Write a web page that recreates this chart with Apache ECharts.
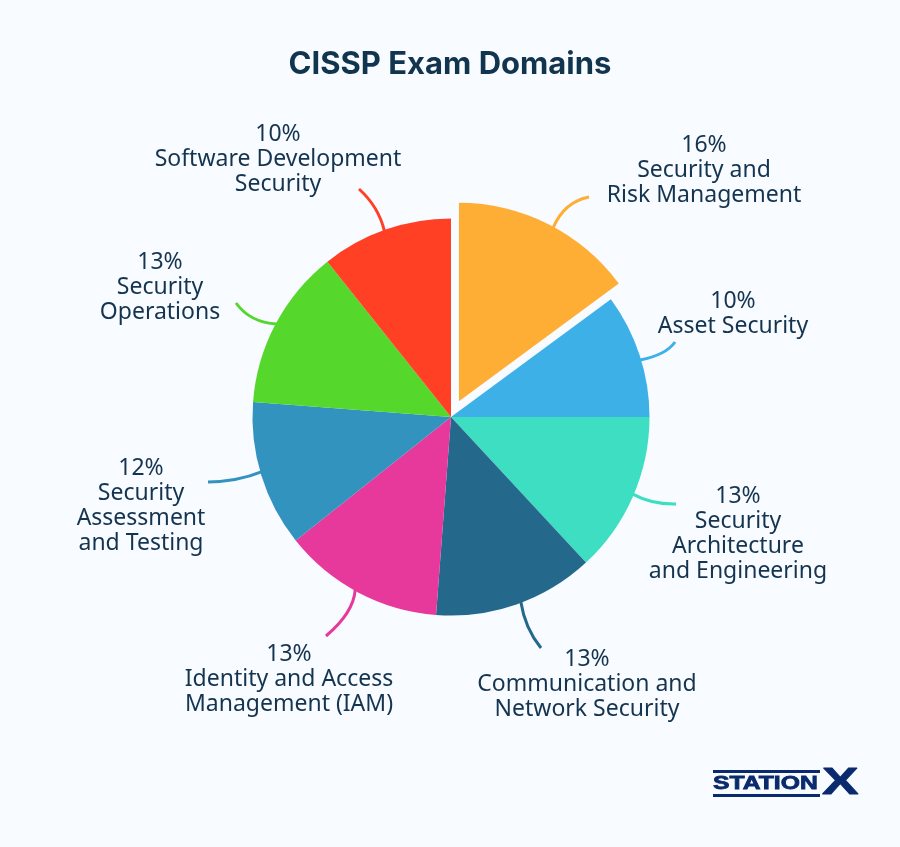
<!DOCTYPE html>
<html>
<head>
<meta charset="utf-8">
<style>
  html, body { margin: 0; padding: 0; background: #f8fbff; }
  #chart { width: 900px; height: 847px; }
</style>
<script src="https://cdn.jsdelivr.net/npm/echarts@6/dist/echarts.min.js"></script>
</head>
<body>
<div id="chart"></div>
<script>
const domains = [
  'Security and\nRisk Management',
  'Asset Security',
  'Security\nArchitecture\nand Engineering',
  'Communication and\nNetwork Security',
  'Identity and Access\nManagement (IAM)',
  'Security\nAssessment\nand Testing',
  'Security\nOperations',
  'Software Development\nSecurity'
];
// what the labels say
const statedPercent = [16, 10, 13, 13, 13, 12, 13, 10];
// how big the slices are actually drawn
const drawnShare = [14.9, 10.1, 13.1, 13.1, 13.1, 11.9, 13.1, 10.7];
const sliceColors = ['#ffae35', '#3db0e8', '#3ddec2', '#24698c', '#e6399b', '#3193be', '#55d72b', '#ff4025'];

// centre of each label block
const labelSpots = [[704, 170], [733, 314], [738, 534], [587, 684], [289, 679], [141, 506], [160, 287], [278, 159]];
// leader lines: clock angle on the rim where they start, curve pull point, end point
const leaderAngles = [28.5, 73.2, 113, 159.3, 209, 253.9, 298.1, 340.3];
const leaderBends = [[564, 202], [666, 355], [651.5, 504.5], [525, 628.5], [353.5, 613], [239, 481], [250, 322.5], [378.5, 206.5]];
const leaderEnds = [[589, 197], [675, 342], [676, 504], [541, 648], [326, 636], [208, 482], [236, 303], [359, 189]];

const ink = '#14344f';
const logoBlue = '#0a2a6e';
const pieCenter = [451, 417];
const pieRadius = 198.5;
const pullOut = 17.6;

// echarts' own labelLine can't bend this way, so the leaders are curves on top
function leaderLines() {
  const total = drawnShare.reduce(function (a, b) { return a + b; }, 0);
  const pulledMid = drawnShare[0] / 2 / total * Math.PI * 2;
  return leaderAngles.map(function (deg, i) {
    const a = deg * Math.PI / 180;
    const r = pieRadius - 1;
    let x1 = pieCenter[0] + Math.sin(a) * r;
    let y1 = pieCenter[1] - Math.cos(a) * r;
    if (i === 0) {
      x1 += Math.sin(pulledMid) * pullOut;
      y1 -= Math.cos(pulledMid) * pullOut;
    }
    return {
      type: 'bezierCurve',
      z: 1,
      shape: {
        x1: x1, y1: y1,
        x2: leaderEnds[i][0], y2: leaderEnds[i][1],
        cpx1: leaderBends[i][0], cpy1: leaderBends[i][1]
      },
      style: { stroke: sliceColors[i], lineWidth: 3, fill: 'none' }
    };
  });
}

const chart = echarts.init(document.getElementById('chart'));

chart.setOption({
  backgroundColor: '#f8fbff',
  animation: false,
  title: {
    text: 'CISSP Exam Domains',
    left: 'center',
    top: 44,
    textStyle: { fontFamily: 'Inter', fontWeight: 700, fontSize: 31, color: '#12354f' }
  },
  series: [
    {
      // the visible slices
      type: 'pie',
      center: pieCenter,
      radius: [0, pieRadius],
      startAngle: 90,
      clockwise: true,
      selectedMode: 'multiple',
      selectedOffset: pullOut,
      emphasis: { disabled: true },
      label: { show: false },
      labelLine: { show: false },
      data: domains.map(function (name, i) {
        return {
          name: name,
          value: drawnShare[i],
          selected: i === 0,
          itemStyle: { color: sliceColors[i] }
        };
      })
    },
    {
      // see-through copy that only carries the text, selected slices drag their label away
      type: 'pie',
      center: pieCenter,
      radius: [0, pieRadius],
      startAngle: 90,
      silent: true,
      emphasis: { disabled: true },
      itemStyle: { color: 'transparent' },
      label: {
        show: true,
        position: 'outer',
        fontFamily: 'Noto Sans',
        fontSize: 23,
        lineHeight: 25,
        color: ink,
        formatter: function (p) {
          return statedPercent[p.dataIndex] + '%\n' + domains[p.dataIndex];
        }
      },
      labelLine: { show: false },
      labelLayout: function (p) {
        const spot = labelSpots[p.dataIndex];
        return { x: spot[0], y: spot[1], align: 'center', verticalAlign: 'middle' };
      },
      data: domains.map(function (name, i) {
        return { name: name, value: drawnShare[i] };
      })
    }
  ],
  graphic: leaderLines().concat([
    { type: 'rect', shape: { x: 713, y: 770, width: 107, height: 3 }, style: { fill: logoBlue } },
    { type: 'rect', shape: { x: 713, y: 794, width: 107, height: 3 }, style: { fill: logoBlue } },
    {
      type: 'text', x: 713, y: 784, scaleX: 1.3,
      style: { text: 'STATION', font: '700 19px "Liberation Sans"', fill: logoBlue, stroke: logoBlue, lineWidth: 0.8, verticalAlign: 'middle' }
    },
    {
      type: 'text', x: 822, y: 784, scaleX: 1.48,
      style: { text: 'X', font: '700 37px "Liberation Sans"', fill: logoBlue, stroke: logoBlue, lineWidth: 0.8, verticalAlign: 'middle' }
    }
  ])
});
</script>
</body>
</html>
